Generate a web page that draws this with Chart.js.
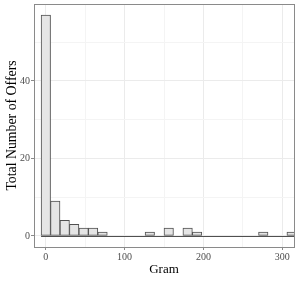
<!DOCTYPE html>
<html>
<head>
<meta charset="utf-8">
<script src="https://cdn.jsdelivr.net/npm/chart.js@4.4.1/dist/chart.umd.min.js"></script>
<style>
	html, body { margin: 0; padding: 0; background: #fff; }
	#wrap { width: 299px; height: 281px; }
</style>
</head>
<body>
<div id="wrap"><canvas id="canvasHist" width="299" height="281"></canvas></div>
<script>
// bin centres (gram) and counts per bin
const binCenters = [0, 12, 24, 36, 48, 60, 72, 84, 96, 108, 120, 132, 144, 156, 168, 180, 192, 204, 216, 228, 240, 252, 264, 276, 288, 300, 312, 324, 336, 348];
const binCounts = [57, 9, 4, 3, 2, 2, 1, 0, 0, 0, 0, 1, 0, 2, 0, 2, 1, 0, 0, 0, 0, 0, 0, 1, 0, 0, 1, 0, 0, 1];
const binWidth = 12;

const xMajor = [0, 100, 200, 300];
const xMinor = [50, 150, 250];
const yMajor = [0, 20, 40];
const yMinor = [10, 30, 50];

const colors = {
	fill: '#e5e5e5',
	outline: '#505050',
	border: '#8a8a8a',
	gridMajor: '#ebebeb',
	gridMinor: '#f4f4f4',
	tickText: '#4d4d4d'
};

const serif = "'Liberation Serif', 'DejaVu Serif', serif";

// panel border + zero line (ggplot draws empty bins as flat rects)
const panelPlugin = {
	id: 'panelPlugin',
	afterDatasetsDraw(chart) {
		const { ctx, chartArea, scales } = chart;
		const y0 = scales.y.getPixelForValue(0);
		const xStart = scales.x.getPixelForValue(binCenters[0] - binWidth / 2);
		ctx.save();
		ctx.beginPath();
		ctx.rect(chartArea.left, chartArea.top, chartArea.right - chartArea.left, chartArea.bottom - chartArea.top);
		ctx.clip();
		ctx.strokeStyle = colors.outline;
		ctx.lineWidth = 1;
		ctx.beginPath();
		ctx.moveTo(xStart, Math.round(y0) + 0.5);
		ctx.lineTo(chartArea.right, Math.round(y0) + 0.5);
		ctx.stroke();
		ctx.restore();

		ctx.save();
		ctx.strokeStyle = colors.border;
		ctx.lineWidth = 1;
		ctx.strokeRect(Math.round(chartArea.left) + 0.5, Math.round(chartArea.top) + 0.5,
			Math.round(chartArea.right - chartArea.left), Math.round(chartArea.bottom - chartArea.top));
		ctx.restore();
	}
};

function noPad(scale) {
	scale.paddingTop = 0;
	scale.paddingBottom = 0;
	scale.paddingLeft = 0;
	scale.paddingRight = 0;
}

const canvasHist = document.getElementById('canvasHist');

const histChart = new Chart(canvasHist, {
	type: 'bar',
	data: {
		datasets: [{
			data: binCenters.map((c, i) => ({ x: c, y: binCounts[i] })),
			backgroundColor: colors.fill,
			borderColor: colors.outline,
			borderWidth: 1,
			borderSkipped: false,
			barPercentage: 1,
			categoryPercentage: 1
		}]
	},
	options: {
		responsive: false,
		animation: false,
		layout: { padding: { left: 4, right: 5, top: 4, bottom: 4 } },
		plugins: {
			legend: { display: false },
			tooltip: { enabled: false }
		},
		scales: {
			x: {
				type: 'linear',
				min: -15,
				max: 315,
				offset: false,
				afterBuildTicks(scale) {
					scale.ticks = [...xMajor, ...xMinor].sort((a, b) => a - b).map(v => ({ value: v }));
				},
				afterFit(scale) {
					scale.height = 30;
					noPad(scale);
				},
				grid: {
					offset: false,
					color: ctx => xMajor.includes(ctx.tick && ctx.tick.value) ? colors.gridMajor : colors.gridMinor,
					tickColor: ctx => xMajor.includes(ctx.tick && ctx.tick.value) ? colors.border : 'rgba(0,0,0,0)',
					tickLength: 3,
					drawTicks: true
				},
				border: { display: false },
				ticks: {
					autoSkip: false,
					maxRotation: 0,
					padding: 1,
					color: colors.tickText,
					font: { family: serif, size: 10 },
					callback: v => xMajor.includes(v) ? String(v) : ''
				},
				title: {
					display: true,
					text: 'Gram',
					color: '#000',
					padding: { top: 0, bottom: 0 },
					font: { family: serif, size: 13 }
				}
			},
			y: {
				min: -2.85,
				max: 59.85,
				afterBuildTicks(scale) {
					scale.ticks = [...yMajor, ...yMinor].sort((a, b) => a - b).map(v => ({ value: v }));
				},
				afterFit(scale) {
					scale.width = 30;
					noPad(scale);
				},
				grid: {
					color: ctx => yMajor.includes(ctx.tick && ctx.tick.value) ? colors.gridMajor : colors.gridMinor,
					tickColor: ctx => yMajor.includes(ctx.tick && ctx.tick.value) ? colors.border : 'rgba(0,0,0,0)',
					tickLength: 3
				},
				border: { display: false },
				ticks: {
					autoSkip: false,
					padding: 1,
					color: colors.tickText,
					font: { family: serif, size: 10 },
					callback: v => yMajor.includes(v) ? String(v) : ''
				},
				title: {
					display: true,
					text: 'Total Number of Offers',
					color: '#000',
					padding: { top: 0, bottom: 0 },
					font: { family: serif, size: 13.8 }
				}
			}
		}
	},
	plugins: [panelPlugin]
});
</script>
</body>
</html>
